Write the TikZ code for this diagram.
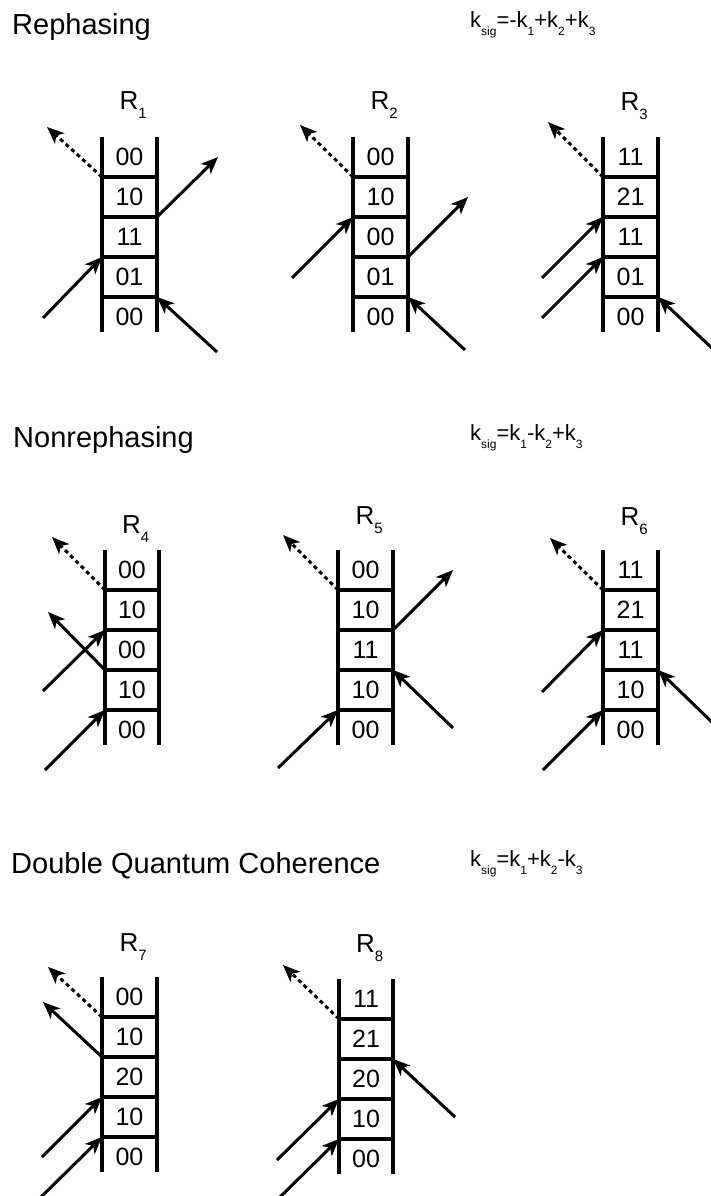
\documentclass[tikz,border=0pt]{standalone}
\usepackage{fontspec}
\setmainfont{Liberation Sans}
\usetikzlibrary{arrows.meta}
\newcommand\rsub[1]{\raisebox{-9pt}{\fontsize{15}{15}\selectfont #1}}
\newcommand\ksub[1]{\raisebox{-8pt}{\fontsize{12}{12}\selectfont #1}}
\tikzset{
  rail/.style={line width=3.4pt},
  rung/.style={line width=3.2pt},
  pulse/.style={line width=3pt, -{Stealth[length=17pt,width=14pt,inset=4.5pt]}},
  sigpulse/.style={pulse, dash pattern=on 4pt off 3.5pt},
  lvl/.style={font=\fontsize{25}{25}\selectfont, inner sep=0pt},
  rlab/.style={font=\fontsize{26}{26}\selectfont, inner sep=0pt, anchor=base west},
  title/.style={font=\fontsize{29}{29}\selectfont, inner sep=0pt, anchor=base west},
  kform/.style={font=\fontsize{22}{22}\selectfont, inner sep=0pt, anchor=base west},
}
% #1 name, #2 xl, #3 xr, #4 ytop, #5 subscript, #6 label baseline, #7 level labels
\newcommand\ladder[7]{%
  \draw[rail] (#2,#4) coordinate (#1-l0) -- (#2,#4+195) coordinate (#1-l5);
  \draw[rail] (#3,#4) coordinate (#1-r0) -- (#3,#4+195) coordinate (#1-r5);
  \foreach \k in {1,...,4}{\draw[rung] (#2,#4+40*\k) coordinate (#1-l\k) -- (#3,#4+40*\k) coordinate (#1-r\k);}
  \foreach \t [count=\i] in {#7}{\node[lvl] (#1-t\i) at ({(#2+#3)/2},{#4+40*\i-20}) {\t};}
  \node[rlab] (#1-name) at ({(#2+#3)/2-10},#6) {R\rsub{#5}};
}
\begin{document}
\begin{tikzpicture}[x=1pt,y=-1pt]
\useasboundingbox (0,0) rectangle (711,1196);
% titles
\node[title] (t1) at (12,35) {Rephasing};
\node[title] (t2) at (13,447) {Nonrephasing};
\node[title] (t3) at (11,873) {Double Quantum Coherence};
\node[kform] (k1) at (470,28) {k\ksub{sig}=-k\ksub{1}+k\ksub{2}+k\ksub{3}};
\node[kform] (k2) at (470,440) {k\ksub{sig}=k\ksub{1}-k\ksub{2}+k\ksub{3}};
\node[kform] (k3) at (470,866) {k\ksub{sig}=k\ksub{1}+k\ksub{2}-k\ksub{3}};

% ---------- Row 1 ----------
\ladder{A}{102}{157}{137}{1}{110}{00,10,11,01,00}
\coordinate (A-s) at (47,127);
\coordinate (A-o) at (218,157);
\coordinate (A-a) at (43,318);
\coordinate (A-b) at (217,352);
\draw[sigpulse] (A-l1) -- (A-s);
\draw[pulse] (A-r2) -- (A-o);
\draw[pulse] (A-a) -- (A-l3);
\draw[pulse] (A-b) -- (A-r4);

\ladder{B}{353}{408}{137}{2}{110}{00,10,00,01,00}
\coordinate (B-s) at (300,125);
\coordinate (B-a) at (292,278);
\coordinate (B-o) at (468,197);
\coordinate (B-b) at (465,350);
\draw[sigpulse] (B-l1) -- (B-s);
\draw[pulse] (B-a) -- (B-l2);
\draw[pulse] (B-r3) -- (B-o);
\draw[pulse] (B-b) -- (B-r4);

\ladder{C}{603}{658}{137}{3}{111}{11,21,11,01,00}
\coordinate (C-s) at (548,122);
\coordinate (C-a) at (542,278);
\coordinate (C-c) at (542,318);
\coordinate (C-b) at (716,352);
\draw[sigpulse] (C-l1) -- (C-s);
\draw[pulse] (C-a) -- (C-l2);
\draw[pulse] (C-c) -- (C-l3);
\draw[pulse] (C-b) -- (C-r4);

% ---------- Row 2 ----------
\ladder{D}{105}{159}{550}{4}{533}{00,10,00,10,00}
\coordinate (D-s) at (52,537);
\coordinate (D-o) at (48,612);
\coordinate (D-a) at (43,691);
\coordinate (D-c) at (45,770);
\draw[sigpulse] (D-l1) -- (D-s);
\draw[pulse] (D-l3) -- (D-o);
\draw[pulse] (D-a) -- (D-l2);
\draw[pulse] (D-c) -- (D-l4);

\ladder{E}{338}{393}{550}{5}{524}{00,10,11,10,00}
\coordinate (E-s) at (283,535);
\coordinate (E-o) at (453,570);
\coordinate (E-b) at (453,728);
\coordinate (E-c) at (278,768);
\draw[sigpulse] (E-l1) -- (E-s);
\draw[pulse] (E-r2) -- (E-o);
\draw[pulse] (E-b) -- (E-r3);
\draw[pulse] (E-c) -- (E-l4);

\ladder{F}{603}{658}{550}{6}{525}{11,21,11,10,00}
\coordinate (F-s) at (550,538);
\coordinate (F-a) at (542,692);
\coordinate (F-b) at (716,726);
\coordinate (F-c) at (543,770);
\draw[sigpulse] (F-l1) -- (F-s);
\draw[pulse] (F-a) -- (F-l2);
\draw[pulse] (F-b) -- (F-r3);
\draw[pulse] (F-c) -- (F-l4);

% ---------- Row 3 ----------
\ladder{G}{102}{157}{977}{7}{951}{00,10,20,10,00}
\coordinate (G-s) at (48,967);
\coordinate (G-o) at (43,1002);
\coordinate (G-a) at (42,1157);
\coordinate (G-c) at (40,1198);
\draw[sigpulse] (G-l1) -- (G-s);
\draw[pulse] (G-l2) -- (G-o);
\draw[pulse] (G-a) -- (G-l3);
\draw[pulse] (G-c) -- (G-l4);

\ladder{H}{339}{393}{979}{8}{952}{11,21,20,10,00}
\coordinate (H-s) at (283,965);
\coordinate (H-b) at (455,1117);
\coordinate (H-a) at (277,1160);
\coordinate (H-c) at (277,1200);
\draw[sigpulse] (H-l1) -- (H-s);
\draw[pulse] (H-b) -- (H-r2);
\draw[pulse] (H-a) -- (H-l3);
\draw[pulse] (H-c) -- (H-l4);
\end{tikzpicture}
\end{document}
